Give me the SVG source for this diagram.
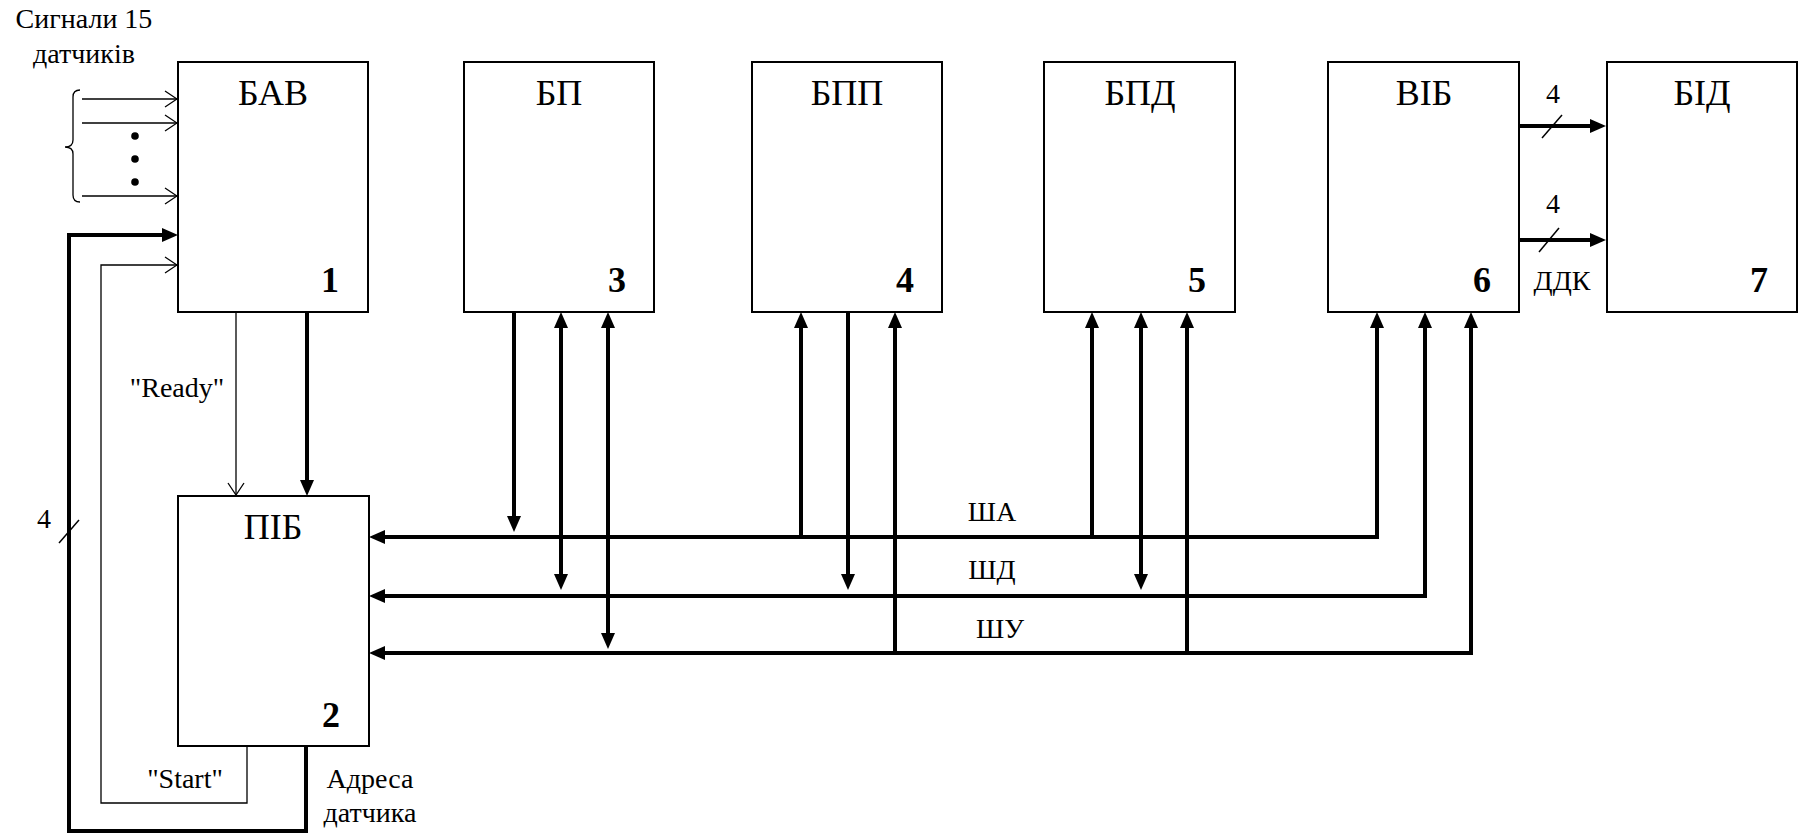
<svg xmlns="http://www.w3.org/2000/svg" width="1802" height="833" viewBox="0 0 1802 833">
<style>
text{font-family:'Liberation Serif','DejaVu Serif',serif;fill:#000}
.box{fill:#fff;stroke:#000;stroke-width:2}
.t{font-size:28px;text-anchor:middle}
.title{font-size:36px;text-anchor:middle}
.num{font-size:36px;font-weight:bold;text-anchor:end}
.thick{fill:none;stroke:#000;stroke-width:4;marker-end:url(#af)}
.bi{fill:none;stroke:#000;stroke-width:4;marker-start:url(#af);marker-end:url(#af)}
.thin{fill:none;stroke:#000;stroke-width:1.3;marker-end:url(#ao)}
.slash{fill:none;stroke:#000;stroke-width:1.5}
</style>
<defs>
<marker id="af" viewBox="0 0 16 14" refX="3" refY="7" markerWidth="16" markerHeight="14" markerUnits="userSpaceOnUse" orient="auto-start-reverse">
<path d="M0,0 L16,7 L0,14 Z" fill="#000"/>
</marker>
<marker id="ao" viewBox="-1 -1 14 18" refX="12" refY="8" markerWidth="14" markerHeight="18" markerUnits="userSpaceOnUse" orient="auto">
<path d="M0,0 L12,8 L0,16" fill="none" stroke="#000" stroke-width="1.3"/>
</marker>
</defs>

<g id="connectors">
<path class="thin" d="M82,99 H177"/>
<path class="thin" d="M82,123 H177"/>
<path class="thin" d="M82,196 H177"/>
<path d="M80,90 Q73,90 73,97 L73,140 Q73,147 65,147 Q73,147 73,154 L73,195 Q73,202 80,202" fill="none" stroke="#000" stroke-width="1.3"/>
<circle cx="135" cy="136" r="3.8"/>
<circle cx="135" cy="159" r="3.8"/>
<circle cx="135" cy="182" r="3.8"/>
<path class="thin" d="M236,312 V495"/>
<path class="thick" d="M307,312 V483"/>
<path class="thin" d="M247,746 V803 H101 V265 H177"/>
<path class="thick" d="M306,746 V831 H69 V235 H165"/>
<path class="slash" d="M59,543 L79,520"/>
<path class="bi" d="M1377,325 V537 H382"/>
<path class="bi" d="M1425,325 V596 H382"/>
<path class="bi" d="M1471,325 V653 H382"/>
<path class="thick" d="M514,312 V519"/>
<path class="bi" d="M561,325 V577"/>
<path class="bi" d="M608,325 V636"/>
<path class="thick" d="M801,537 V325"/>
<path class="thick" d="M848,312 V577"/>
<path class="thick" d="M895,653 V325"/>
<path class="thick" d="M1092,537 V325"/>
<path class="bi" d="M1141,325 V577"/>
<path class="thick" d="M1187,653 V325"/>
<path class="thick" d="M1519,126 H1593"/>
<path class="thick" d="M1519,240 H1593"/>
<path class="slash" d="M1542,138 L1562,115"/>
<path class="slash" d="M1539,252 L1559,228"/>
</g>

<g id="labels">
<text class="t" x="84" y="28">Сигнали 15</text>
<text class="t" x="84" y="63">датчиків</text>
<text class="t" x="177" y="397">"Ready"</text>
<text class="t" x="185" y="788">"Start"</text>
<text class="t" x="370" y="788">Адреса</text>
<text class="t" x="370" y="822">датчика</text>
<text class="t" x="44" y="528">4</text>
<text class="t" x="992" y="521">ША</text>
<text class="t" x="992" y="579">ШД</text>
<text class="t" x="1000" y="638">ШУ</text>
<text class="t" x="1553" y="103">4</text>
<text class="t" x="1553" y="213">4</text>
<text class="t" x="1562" y="290">ДДК</text>
</g>

<g id="node-bav">
<rect class="box" x="178" y="62" width="190" height="250"/>
<text class="title" x="273" y="105">БАВ</text>
<text class="num" x="339" y="292">1</text>
</g>
<g id="node-pib">
<rect class="box" x="178" y="496" width="191" height="250"/>
<text class="title" x="273" y="539">ПІБ</text>
<text class="num" x="340" y="727">2</text>
</g>
<g id="node-bp">
<rect class="box" x="464" y="62" width="190" height="250"/>
<text class="title" x="559" y="105">БП</text>
<text class="num" x="626" y="292">3</text>
</g>
<g id="node-bpp">
<rect class="box" x="752" y="62" width="190" height="250"/>
<text class="title" x="847" y="105">БПП</text>
<text class="num" x="914" y="292">4</text>
</g>
<g id="node-bpd">
<rect class="box" x="1044" y="62" width="191" height="250"/>
<text class="title" x="1140" y="105">БПД</text>
<text class="num" x="1206" y="292">5</text>
</g>
<g id="node-vib">
<rect class="box" x="1328" y="62" width="191" height="250"/>
<text class="title" x="1424" y="105">ВІБ</text>
<text class="num" x="1491" y="292">6</text>
</g>
<g id="node-bid">
<rect class="box" x="1607" y="62" width="190" height="250"/>
<text class="title" x="1702" y="105">БІД</text>
<text class="num" x="1768" y="292">7</text>
</g>
</svg>
